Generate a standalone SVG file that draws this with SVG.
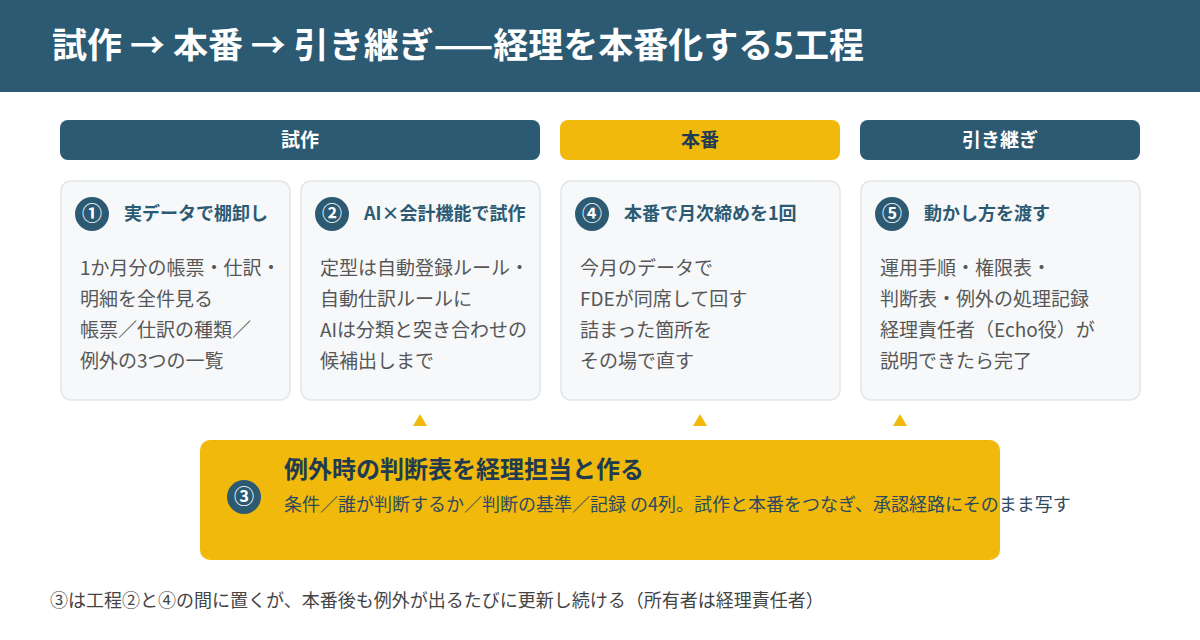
<svg xmlns="http://www.w3.org/2000/svg" width="1200" height="640" viewBox="0 0 1200 640">
  <style>
    text { font-family: "Noto Sans CJK JP", "Noto Sans", sans-serif; }
    .title { font-size: 35px; font-weight: 700; fill: #ffffff; }
    .phase { font-size: 19px; font-weight: 700; text-anchor: middle; }
    .card { fill: #f6f8fa; stroke: #e1e6ea; stroke-width: 1.5; }
    .num { fill: #2c5a73; }
    .numtxt { font-size: 20px; font-weight: 700; fill: #ffffff; text-anchor: middle; }
    .ctitle { font-size: 18px; font-weight: 700; fill: #2c5a73; }
    .body { font-size: 19px; fill: #575757; }
    .tri { fill: #f0b90b; }
    .foot { font-size: 18px; fill: #444444; }
  </style>
  <rect x="0" y="0" width="1200" height="92" fill="#2c5a73"/>
  <text class="title" x="52" y="58">試作 → 本番 → 引き継ぎ——経理を本番化する5工程</text>

  <g id="phase-shisaku">
    <rect x="60" y="120" width="480" height="40" rx="8" fill="#2c5a73"/>
    <text class="phase" x="300" y="147" fill="#ffffff">試作</text>
  </g>
  <g id="phase-honban">
    <rect x="560" y="120" width="280" height="40" rx="8" fill="#f0b90b"/>
    <text class="phase" x="700" y="147" fill="#1f3b50">本番</text>
  </g>
  <g id="phase-hikitsugi">
    <rect x="860" y="120" width="280" height="40" rx="8" fill="#2c5a73"/>
    <text class="phase" x="1000" y="147" fill="#ffffff">引き継ぎ</text>
  </g>

  <g id="step1">
    <rect class="card" x="61" y="181" width="229" height="219" rx="10"/>
    <circle class="num" cx="92" cy="214" r="17"/>
    <text class="numtxt" x="92" y="221">①</text>
    <text class="ctitle" x="124" y="220">実データで棚卸し</text>
    <text class="body" x="80" y="275">1か月分の帳票・仕訳・</text>
    <text class="body" x="80" y="306">明細を全件見る</text>
    <text class="body" x="80" y="337">帳票／仕訳の種類／</text>
    <text class="body" x="80" y="368">例外の3つの一覧</text>
  </g>
  <g id="step2">
    <rect class="card" x="301" y="181" width="239" height="219" rx="10"/>
    <circle class="num" cx="332" cy="214" r="17"/>
    <text class="numtxt" x="332" y="221">②</text>
    <text class="ctitle" x="364" y="220">AI×会計機能で試作</text>
    <text class="body" x="320" y="275">定型は自動登録ルール・</text>
    <text class="body" x="320" y="306">自動仕訳ルールに</text>
    <text class="body" x="320" y="337">AIは分類と突き合わせの</text>
    <text class="body" x="320" y="368">候補出しまで</text>
  </g>
  <g id="step4">
    <rect class="card" x="561" y="181" width="279" height="219" rx="10"/>
    <circle class="num" cx="592" cy="214" r="17"/>
    <text class="numtxt" x="592" y="221">④</text>
    <text class="ctitle" x="624" y="220">本番で月次締めを1回</text>
    <text class="body" x="580" y="275">今月のデータで</text>
    <text class="body" x="580" y="306">FDEが同席して回す</text>
    <text class="body" x="580" y="337">詰まった箇所を</text>
    <text class="body" x="580" y="368">その場で直す</text>
  </g>
  <g id="step5">
    <rect class="card" x="861" y="181" width="279" height="219" rx="10"/>
    <circle class="num" cx="892" cy="214" r="17"/>
    <text class="numtxt" x="892" y="221">⑤</text>
    <text class="ctitle" x="924" y="220">動かし方を渡す</text>
    <text class="body" x="880" y="275">運用手順・権限表・</text>
    <text class="body" x="880" y="306">判断表・例外の処理記録</text>
    <text class="body" x="880" y="337">経理責任者（Echo役）が</text>
    <text class="body" x="880" y="368">説明できたら完了</text>
  </g>

  <g id="connectors">
    <polygon class="tri" points="420,414 427,426 413,426"/>
    <polygon class="tri" points="700,414 707,426 693,426"/>
    <polygon class="tri" points="900,414 907,426 893,426"/>
  </g>

  <g id="step3">
    <rect x="200" y="440" width="800" height="120" rx="10" fill="#f0b90b"/>
    <circle class="num" cx="244" cy="497" r="17"/>
    <text class="numtxt" x="244" y="504">③</text>
    <text x="284" y="478" font-size="24" font-weight="700" fill="#1f3b50">例外時の判断表を経理担当と作る</text>
    <text x="284" y="511" font-size="18" fill="#2c4a5f">条件／誰が判断するか／判断の基準／記録 の4列。試作と本番をつなぎ、承認経路にそのまま写す</text>
  </g>

  <text class="foot" x="50" y="607">③は工程②と④の間に置くが、本番後も例外が出るたびに更新し続ける（所有者は経理責任者）</text>
</svg>
